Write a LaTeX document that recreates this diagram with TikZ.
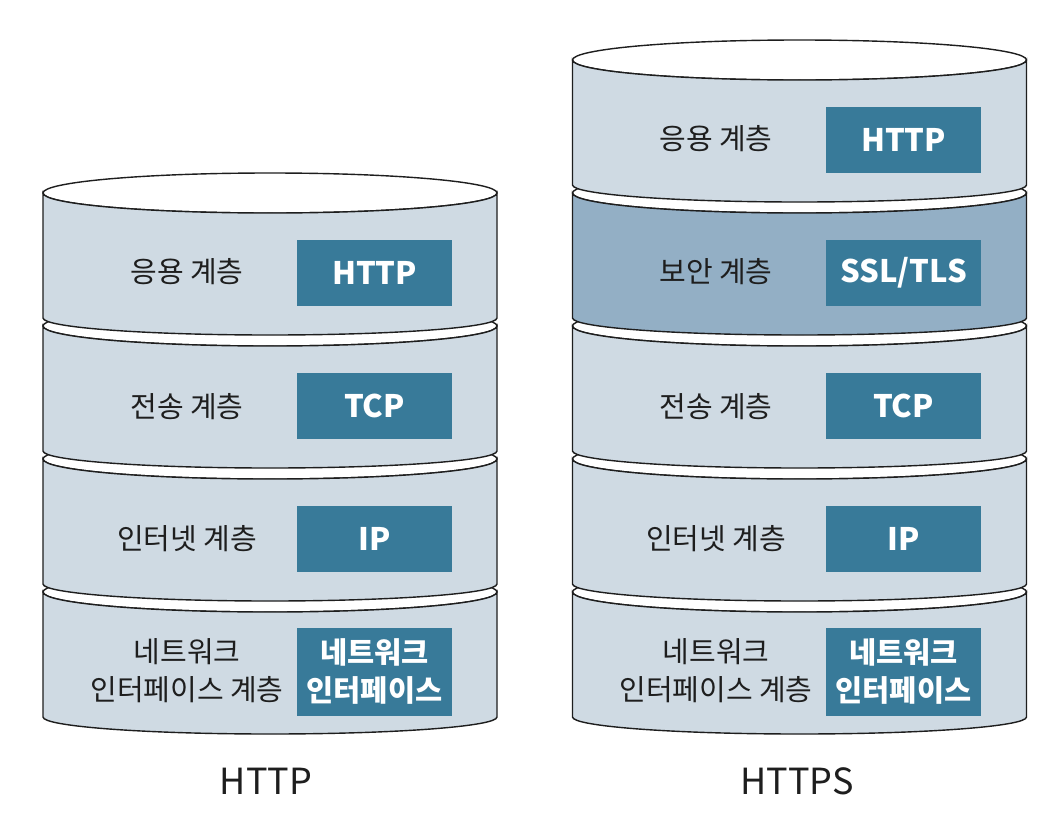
\documentclass[tikz,border=0pt]{standalone}
\usepackage{fontspec}
\setmainfont{Noto Sans CJK KR}
\definecolor{layerc}{HTML}{CFDAE3}
\definecolor{secc}{HTML}{93AFC5}
\definecolor{boxc}{HTML}{387A99}
\definecolor{inkc}{HTML}{1E1E1E}
\tikzset{
  lbl/.style={font=\fontsize{29}{38}\selectfont, text=inkc, align=center, inner sep=0pt},
  pbox/.style={fill=boxc, text=white, font=\bfseries\fontsize{31}{38}\selectfont, minimum width=155pt, minimum height=66pt, inner sep=0pt, align=center},
  kbox/.style={pbox, font=\bfseries\fontsize{29.5}{38}\selectfont, minimum height=88pt},
  outline/.style={line width=1.4pt, draw=inkc},
  title/.style={font=\fontsize{36}{44}\selectfont, text=inkc, inner sep=0pt},
}
% #1 centre x, #2 top side y, #3 bottom side y, #4 fill colour
\newcommand\mylayer[4]{%
  \filldraw[outline, fill=white] (#1,-#2) ellipse[x radius=227, y radius=20];
  \filldraw[outline, fill=#4] (#1-227,-#2) -- (#1-227,-#3)
     arc[start angle=180, end angle=360, x radius=227, y radius=17]
     -- (#1+227,-#2)
     arc[start angle=0, end angle=-180, x radius=227, y radius=20] -- cycle;
}
\begin{document}
\begin{tikzpicture}[x=1pt, y=1pt]
\fill[white] (0,0) rectangle (1050,-822);
\useasboundingbox (0,0) rectangle (1050,-822);
% left stack (HTTP)
\mylayer{270}{592}{717}{layerc}
\mylayer{270}{459}{584}{layerc}
\mylayer{270}{326}{451}{layerc}
\mylayer{270}{193}{318}{layerc}
% right stack (HTTPS)
\mylayer{799.5}{592}{717}{layerc}
\mylayer{799.5}{459}{584}{layerc}
\mylayer{799.5}{326}{451}{layerc}
\mylayer{799.5}{193}{318}{secc}
\mylayer{799.5}{60}{185}{layerc}

% left labels and boxes
\node[lbl] (lapp) at (187,-272) {응용 계층};
\node[pbox] (lhttp) at (374.5,-273) {HTTP};
\node[lbl] (ltr) at (187,-407) {전송 계층};
\node[pbox] (ltcp) at (374.5,-406) {TCP};
\node[lbl] (lnet) at (187,-539) {인터넷 계층};
\node[pbox] (lip) at (374.5,-539) {IP};
\node[lbl] (lnic) at (187,-671) {네트워크\\인터페이스 계층};
\node[kbox] (lnicb) at (374.5,-671.5) {네트워크\\인터페이스};

% right labels and boxes
\node[lbl] (rapp) at (716,-139) {응용 계층};
\node[pbox] (rhttp) at (903.5,-140) {HTTP};
\node[lbl] (rsec) at (716,-272) {보안 계층};
\node[pbox] (rssl) at (903.5,-273) {SSL/TLS};
\node[lbl] (rtr) at (716,-407) {전송 계층};
\node[pbox] (rtcp) at (903.5,-406) {TCP};
\node[lbl] (rnet) at (716,-539) {인터넷 계층};
\node[pbox] (rip) at (903.5,-539) {IP};
\node[lbl] (rnic) at (716,-671) {네트워크\\인터페이스 계층};
\node[kbox] (rnicb) at (903.5,-671.5) {네트워크\\인터페이스};

% titles
\node[title] (tl) at (266,-781) {HTTP};
\node[title] (tr) at (797,-781) {HTTPS};
\end{tikzpicture}
\end{document}
